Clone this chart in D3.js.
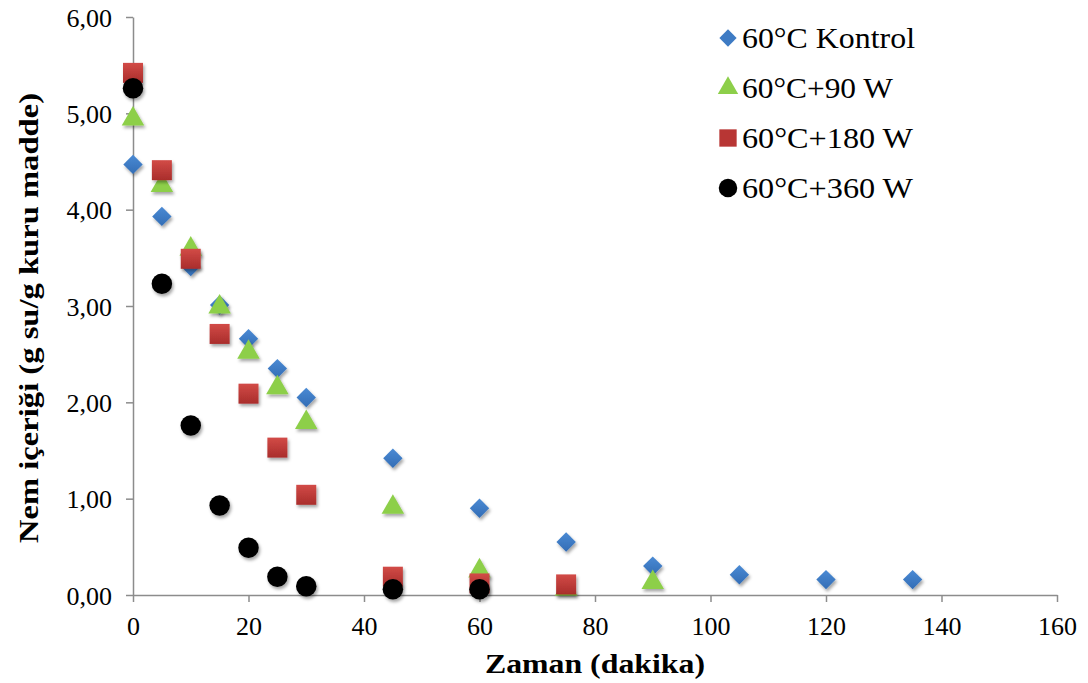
<!DOCTYPE html>
<html><head><meta charset="utf-8">
<script src="https://cdn.jsdelivr.net/npm/d3@7"></script>
<style>body{margin:0;background:#fff}svg{display:block}
svg text{font-family:"Liberation Serif","DejaVu Serif","Times New Roman",serif !important;}
</style>
</head><body>
<script>
const times = [0,5,10,15,20,25,30,45,60,75,90,105,120,135];
const kontrol = [4.47,3.93,3.41,3.01,2.66,2.35,2.05,1.42,0.90,0.55,0.30,0.21,0.16,0.16];
const w90 = [4.93,4.24,3.58,2.98,2.51,2.14,1.78,0.90,0.24,0.05,0.12];
const w180 = [5.42,4.41,3.49,2.71,2.09,1.53,1.04,0.19,0.12,0.11];
const w360 = [5.26,3.23,1.76,0.93,0.49,0.19,0.09,0.06,0.06];
const seriesNames = ["60°C Kontrol","60°C+90 W","60°C+180 W","60°C+360 W"];
const legendWidths = [173,151,171,171];
const xTicks = [0,20,40,60,80,100,120,140,160];
const yTicks = [0,1,2,3,4,5,6];

const W=1088,H=683;
const svg=d3.select("body").append("svg").attr("width",W).attr("height",H);
const x=d3.scaleLinear().domain([0,160]).range([133,1057]);
const y=d3.scaleLinear().domain([0,6]).range([595,17]);

const defs=svg.append("defs");
const f=defs.append("filter").attr("id","sh").attr("x","-50%").attr("y","-50%").attr("width","200%").attr("height","200%");
f.append("feDropShadow").attr("dx",1.5).attr("dy",2.5).attr("stdDeviation",1.8).attr("flood-color","#000").attr("flood-opacity",0.35);
const g1=defs.append("linearGradient").attr("id","redg").attr("x1",0).attr("y1",0).attr("x2",0).attr("y2",1);
g1.append("stop").attr("offset","0%").attr("stop-color","#D24B47");
g1.append("stop").attr("offset","100%").attr("stop-color","#A92D2B");
const g2=defs.append("linearGradient").attr("id","blueg").attr("x1",0).attr("y1",0).attr("x2",0).attr("y2",1);
g2.append("stop").attr("offset","0%").attr("stop-color","#4A8AD4");
g2.append("stop").attr("offset","100%").attr("stop-color","#336DB5");

const fmt=d=>d3.format(".2f")(d).replace(".",",");
const yAxis=svg.append("g").attr("transform","translate(133,0)")
  .call(d3.axisLeft(y).tickValues(yTicks).tickFormat(fmt).tickSize(7).tickSizeOuter(0));
const xAxis=svg.append("g").attr("transform","translate(0,595)")
  .call(d3.axisBottom(x).tickValues(xTicks).tickFormat(d3.format("d")).tickSize(7).tickSizeOuter(0));
[yAxis,xAxis].forEach(a=>{
  a.attr("font-family",null);
  a.selectAll("path,line").attr("stroke","#8c8c8c").attr("stroke-width",1.5);
  a.selectAll("text").attr("font-size",26).attr("fill","#000");
});
yAxis.selectAll("text").attr("x",-21).attr("dy","0.35em");
xAxis.selectAll("text").attr("y",22);

const sym={
  0:d3.symbol().type(d3.symbolDiamond2).size(240),
  1:d3.symbol().type(d3.symbolTriangle).size(220),
  2:d3.symbol().type(d3.symbolSquare).size(400),
  3:d3.symbol().type(d3.symbolCircle).size(330)
};
const fills=["url(#blueg)","#8DCF4A","url(#redg)","#000"];
const legendFills=["#3E7BC4","#8DCF4A","#B83634","#000"];
const data=[kontrol,w90,w180,w360];

const plot=svg.append("g");
data.forEach((arr,si)=>{
  plot.append("g").selectAll("path").data(arr).join("path")
    .attr("d",sym[si]())
    .attr("transform",(d,i)=>`translate(${x(times[i])},${y(d)+(si===1?-1:0)})`)
    .attr("fill",fills[si])
    .attr("filter","url(#sh)");
});

const legSym={
  0:d3.symbol().type(d3.symbolDiamond2).size(190),
  1:d3.symbol().type(d3.symbolTriangle).size(180),
  2:d3.symbol().type(d3.symbolSquare).size(300),
  3:d3.symbol().type(d3.symbolCircle).size(270)
};
const leg=svg.append("g");
seriesNames.forEach((n,i)=>{
  const yy=38+i*50;
  leg.append("path").attr("d",legSym[i]()).attr("transform",`translate(728,${yy})`).attr("fill",legendFills[i]);
  leg.append("text").attr("x",742).attr("y",yy+10).text(n)
    .attr("font-size",29).attr("fill","#000")
    .attr("textLength",legendWidths[i]).attr("lengthAdjust","spacingAndGlyphs");
});

svg.append("text").attr("x",485).attr("y",673)
  .attr("font-weight","bold").attr("font-size",27)
  .attr("textLength",220).attr("lengthAdjust","spacingAndGlyphs")
  .text("Zaman (dakika)");
svg.append("text").attr("transform","translate(38,543) rotate(-90)")
  .attr("font-weight","bold").attr("font-size",27)
  .attr("textLength",450).attr("lengthAdjust","spacingAndGlyphs")
  .text("Nem içeriği (g su/g kuru madde)");
</script>
</body></html>
